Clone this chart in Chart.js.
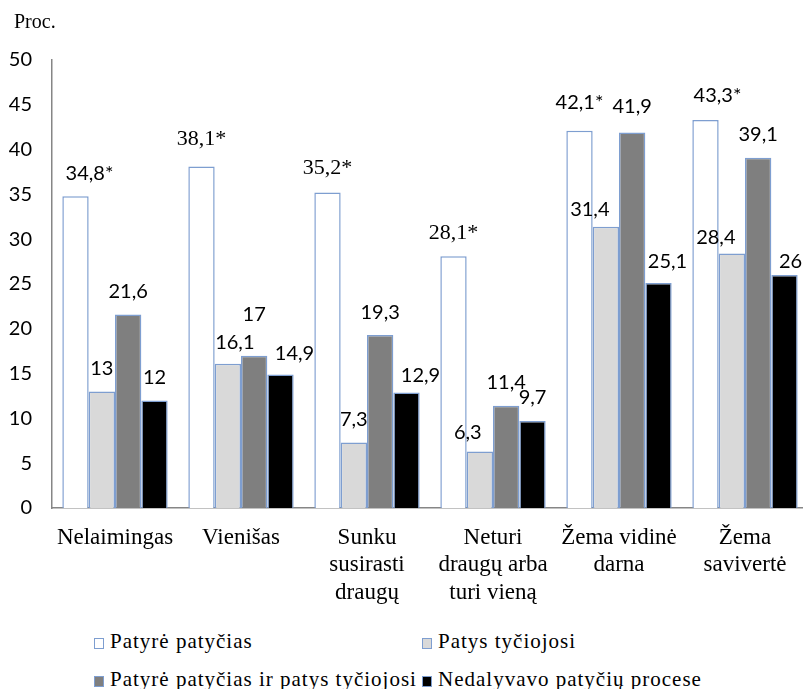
<!DOCTYPE html>
<html>
<head>
<meta charset="utf-8">
<script src="https://cdn.jsdelivr.net/npm/chart.js@4/dist/chart.umd.min.js"></script>
<style>
  html, body { margin:0; padding:0; background:#fff; overflow:hidden; width:803px; height:689px; }
  #wrap { position:relative; width:803px; height:689px; overflow:hidden; }
  #c { position:absolute; left:0; top:0; }
  .proc { position:absolute; left:14px; top:10px; font-family:"Times New Roman","Liberation Serif",serif; font-size:20px; color:#000; }
  .leg { position:absolute; font-family:"Times New Roman","Liberation Serif",serif; font-size:21px; letter-spacing:1px; color:#000; white-space:nowrap; line-height:24px; }
  .leg i { display:inline-block; width:8px; height:9px; border:1px solid #7E9ED0; margin-right:6px; vertical-align:-1px; }
</style>
</head>
<body>
<div id="wrap">
  <canvas id="c" width="830" height="610"></canvas>
  <div class="proc">Proc.</div>
  <div id="legend"></div>
</div>
<script>
const categories = [["Nelaimingas"], ["Vienišas"], ["Sunku", "susirasti", "draugų"], ["Neturi", "draugų arba", "turi vieną"], ["Žema vidinė", "darna"], ["Žema", "savivertė"]];
const seriesNames = ["Patyrė patyčias", "Patys tyčiojosi", "Patyrė patyčias ir patys tyčiojosi", "Nedalyvavo patyčių procese"];
const patyrePatycias = [34.8, 38.1, 35.2, 28.1, 42.1, 43.3];
const patysTyciojosi = [13, 16.1, 7.3, 6.3, 31.4, 28.4];
const patyreIrPatys = [21.6, 17, 19.3, 11.4, 41.9, 39.1];
const nedalyvavo = [12, 14.9, 12.9, 9.7, 25.1, 26];
const labelSuffix = ["*", "", "", ""];
const yMin = 0, yMax = 50, yStep = 5;

// styling (kept separate from the data)
const SERIF = '"Times New Roman", "Liberation Serif", serif';
const fills = ["#FFFFFF", "#D9D9D9", "#7F7F7F", "#000000"];
const edge = "#7E9ED0";
// label nudges [dx, dy of label centre relative to bar top]
const labelNudge = [
  [[14,-23],[0,-27],[0,-24],[0,-23],[0,-28],[12,-24]],
  [[0,-23],[7,-21],[0,-23],[-12,-19],[-16,-17],[-16,-16]],
  [[0,-23],[0,-41],[0,-23],[0,-23],[0,-26],[0,-23]],
  [[0,-23],[14,-21],[14,-17],[0,-24],[9,-22],[6,-13]]
];
const serifLabel = [[false,true,true,true,false,false],[],[],[]];

const seriesValues = [patyrePatycias, patysTyciojosi, patyreIrPatys, nedalyvavo];

const labelPlugin = {
  id: 'valueLabels',
  afterDatasetsDraw(chart) {
    const ctx = chart.ctx;
    ctx.save();
    ctx.fillStyle = '#000';
    ctx.textAlign = 'center';
    ctx.textBaseline = 'middle';
    chart.data.datasets.forEach((ds, di) => {
      const meta = chart.getDatasetMeta(di);
      meta.data.forEach((bar, i) => {
        const v = ds.data[i];
        const txt = String(v).replace('.', ',') + labelSuffix[di];
        const n = labelNudge[di][i];
        const serif = serifLabel[di] && serifLabel[di][i];
        ctx.font = serif ? '22px ' + SERIF : '20px Lato';
        ctx.fillText(txt, bar.x + n[0], bar.y + n[1]);
      });
    });
    ctx.restore();
  }
};

new Chart(document.getElementById('c'), {
  type: 'bar',
  data: {
    labels: categories,
    datasets: seriesValues.map((vals, k) => ({
      label: seriesNames[k],
      data: vals,
      backgroundColor: fills[k],
      borderColor: edge,
      borderWidth: 1.5,
      categoryPercentage: 0.836,
      barPercentage: 1.0
    }))
  },
  options: {
    responsive: false,
    animation: false,
    devicePixelRatio: 1,
    layout: { padding: { left: 0, right: 22, top: 60, bottom: 0 } },
    plugins: { legend: { display: false }, tooltip: { enabled: false } },
    scales: {
      y: {
        min: yMin, max: yMax,
        ticks: { stepSize: yStep, color: '#000', font: { family: 'Lato', size: 20 }, padding: 20 },
        grid: { display: false, drawTicks: false },
        border: { display: true, color: '#868686', width: 1.5 },
        afterFit(s) { s.width = 52; }
      },
      x: {
        ticks: { color: '#000', font: { family: SERIF, size: 23, lineHeight: 1.2 }, padding: 16, maxRotation: 0, autoSkip: false },
        grid: { display: false, drawTicks: false },
        border: { display: true, color: '#868686', width: 1.5 },
        afterFit(s) { s.height = 102; }
      }
    }
  },
  plugins: [labelPlugin]
});

// legend (2 x 2 grid) built from the series names
const legPos = [[94, 629], [422, 629], [94, 667], [422, 667]];
const legend = document.getElementById('legend');
seriesNames.forEach((name, k) => {
  const d = document.createElement('div');
  d.className = 'leg';
  d.style.left = legPos[k][0] + 'px';
  d.style.top = legPos[k][1] + 'px';
  const sw = document.createElement('i');
  sw.style.background = fills[k];
  d.appendChild(sw);
  d.appendChild(document.createTextNode(name));
  legend.appendChild(d);
});
</script>
</body>
</html>
